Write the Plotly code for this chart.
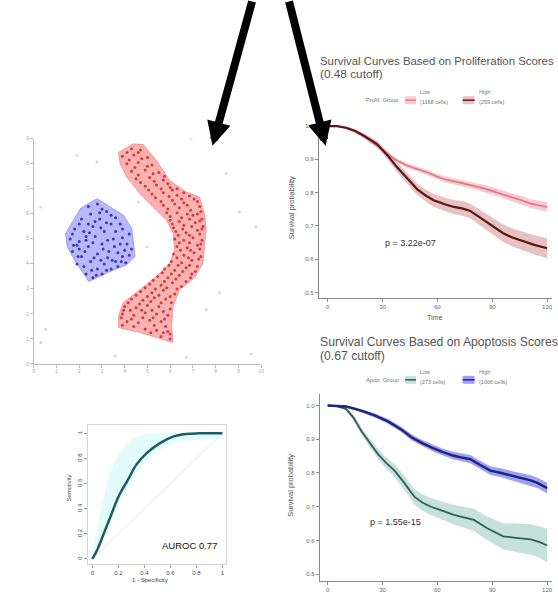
import plotly.graph_objects as go

W, H = 558, 599

# ---------------- scatter (clusters) data ----------------
blue_hull_x = [2.78, 3.94, 4.31, 4.45, 4.09, 3.36, 2.42, 1.83, 1.47, 1.40, 2.05, 2.78]
blue_hull_y = [6.61, 5.95, 5.42, 4.30, 3.97, 3.70, 3.30, 4.10, 4.69, 5.22, 6.21, 6.61]

red_hull_x = [3.73, 4.38, 4.81, 5.40, 5.98, 6.71, 7.29, 7.51, 7.58, 7.51, 7.44, 7.07, 6.42, 6.13,
              6.06, 6.13, 5.40, 4.67, 3.73, 3.73, 3.94, 4.67, 5.40, 5.98, 6.20, 6.13, 5.84, 5.25,
              4.67, 4.09, 3.80, 3.73]
red_hull_y = [8.46, 8.80, 8.77, 8.13, 7.33, 6.87, 6.67, 6.01, 5.36, 4.69, 4.03, 3.44, 2.98, 2.31,
              1.52, 0.86, 1.06, 1.26, 1.46, 1.92, 2.45, 2.98, 3.50, 4.03, 4.56, 5.22, 5.75, 6.28,
              6.81, 7.47, 8.00, 8.46]

blue_pts_x = [2.8, 3.2, 2.5, 3.6, 2.1, 2.9, 3.4, 2.6, 1.8, 3.9, 2.2, 3.1, 4.2, 1.6, 2.7, 3.5, 2.0,
              3.0, 3.8, 2.4, 4.3, 1.7, 3.3, 2.8, 2.1, 3.9, 3.6, 2.5, 3.1, 1.9, 4.05, 2.8, 3.4, 2.3,
              2.6, 3.0, 3.7, 2.0, 3.6, 2.4, 3.0, 2.3, 4.0, 1.75, 3.25,
              2.4, 2.9, 3.4, 2.0, 2.7, 3.2, 3.8, 1.7, 2.45, 2.95, 3.9, 2.3, 3.25, 1.9, 2.6, 3.55,
              4.1, 2.25, 3.05, 3.7, 1.95, 2.65, 3.45, 4.2, 2.2, 2.95, 3.85, 2.55, 3.2, 2.75]
blue_pts_y = [6.4, 6.1, 6.0, 5.85, 5.8, 5.8, 5.6, 5.5, 5.4, 5.4, 5.3, 5.3, 5.2, 5.0, 5.1, 5.0, 4.9,
              4.8, 4.8, 4.7, 4.6, 4.5, 4.5, 4.4, 4.3, 4.3, 4.1, 4.1, 4.0, 4.0, 4.05, 3.8, 3.8, 3.6,
              3.45, 3.6, 3.9, 4.6, 5.3, 5.6, 6.2, 4.95, 4.55, 4.75, 4.25,
              6.3, 6.05, 5.95, 5.6, 5.7, 5.65, 5.6, 5.2, 5.25, 5.45, 5.05, 5.1, 4.95, 4.75, 4.85, 4.7,
              4.8, 4.5, 4.6, 4.45, 4.3, 4.25, 4.15, 4.35, 3.9, 4.15, 4.1, 3.75, 3.75, 3.55]

red_pts_x = [4.3, 4.7, 3.9, 4.4, 5.0, 4.1, 4.6, 5.2, 4.3, 4.9, 5.5, 4.5, 5.1, 5.7,
             4.9, 5.4, 6.0, 6.3, 5.2, 5.7, 6.3, 6.85, 5.6, 6.1, 6.6, 7.2, 5.9, 6.4, 6.9, 7.35,
             6.0, 6.5, 7.0, 7.4, 6.1, 6.6, 7.1, 7.45, 6.25, 6.7, 7.2, 6.2, 6.6, 7.0, 7.4,
             6.3, 6.75, 7.2, 6.15, 6.6, 7.05, 7.35, 6.05, 6.5, 6.95, 5.75, 6.2, 6.7, 7.1,
             5.45, 5.9, 6.4, 6.9, 5.1, 5.6, 6.1, 6.5, 4.7, 5.2, 5.7, 6.2, 4.3, 4.8, 5.3, 5.8,
             4.0, 4.5, 5.0, 5.5, 6.0, 3.9, 4.4, 4.9, 5.4, 5.9, 4.1, 4.6, 5.1, 5.6, 4.9, 5.4,
             5.9, 5.6, 6.0]
red_pts_y = [8.6, 8.55, 8.3, 8.35, 8.25, 8.0, 8.05, 7.95, 7.7, 7.75, 7.65, 7.4, 7.45, 7.35,
             7.1, 7.15, 7.05, 7.0, 6.8, 6.85, 6.75, 6.72, 6.5, 6.55, 6.45, 6.5, 6.2, 6.25, 6.15, 6.1,
             5.9, 5.85, 5.95, 5.8, 5.6, 5.55, 5.65, 5.5, 5.3, 5.25, 5.35, 5.0, 4.95, 5.05, 4.95,
             4.7, 4.65, 4.75, 4.4, 4.35, 4.45, 4.3, 4.1, 4.05, 4.15, 3.8, 3.75, 3.85, 3.7,
             3.5, 3.45, 3.55, 3.45, 3.2, 3.15, 3.25, 3.1, 2.9, 2.85, 2.95, 2.8, 2.6, 2.55, 2.65, 2.6,
             2.3, 2.25, 2.35, 2.3, 2.2, 2.0, 1.95, 2.05, 2.0, 1.95, 1.7, 1.65, 1.75, 1.7, 1.4, 1.35,
             1.3, 1.1, 1.0]

red_pts2_x = [4.1, 4.6, 4.2, 4.75, 4.45, 5.0, 4.6, 5.25, 5.75, 4.7, 5.3, 5.9,
              5.05, 5.6, 6.1, 6.6, 5.35, 5.95, 6.5, 7.05, 5.7, 6.2, 6.75, 7.3, 5.85, 6.3, 6.75, 7.2,
              6.0, 6.4, 6.85, 7.3, 6.15, 6.55, 6.95, 7.4, 6.35, 6.85, 7.3, 6.4, 6.85, 7.35,
              6.45, 6.9, 7.3, 6.3, 6.8, 7.25, 5.95, 6.35, 6.85, 7.2, 5.65, 6.05, 6.55, 6.95,
              5.25, 5.75, 6.25, 6.7, 4.9, 5.35, 5.85, 6.3, 4.5, 5.0, 5.5, 6.0,
              4.15, 4.65, 5.15, 5.6, 6.05, 3.95, 4.25, 4.75, 5.2, 5.7, 3.85, 4.3, 4.8, 5.25, 5.75,
              3.9, 4.4, 5.3, 5.8, 5.15, 5.7, 6.0]
red_pts2_y = [8.45, 8.45, 8.15, 8.2, 7.85, 7.9, 7.55, 7.6, 7.5, 7.25, 7.3, 7.2,
              6.95, 7.0, 6.95, 6.85, 6.65, 6.7, 6.6, 6.6, 6.35, 6.4, 6.35, 6.3, 6.05, 6.05, 6.0, 6.0,
              5.75, 5.7, 5.8, 5.72, 5.45, 5.4, 5.5, 5.4, 5.15, 5.15, 5.2, 4.85, 4.85, 4.8,
              4.55, 4.55, 4.6, 4.25, 4.25, 4.2, 3.95, 3.95, 3.95, 3.9, 3.65, 3.6, 3.7, 3.6,
              3.35, 3.3, 3.4, 3.3, 3.05, 3.0, 3.05, 3.0, 2.75, 2.7, 2.75, 2.7,
              2.45, 2.4, 2.5, 2.45, 2.45, 2.15, 2.15, 2.15, 2.15, 2.1, 1.85, 1.8, 1.85, 1.85, 1.8,
              1.55, 1.5, 1.55, 1.5, 1.25, 1.25, 1.2]

noise_x = [1.91, 2.78, 6.93, 8.46, 9.04, 9.77, 0.31, 4.97, 8.17, 7.59, 0.31, 3.58, 6.71, 9.55, 4.60, 0.52]
noise_y = [8.33, 8.07, 9.00, 7.61, 6.08, 5.49, 6.28, 4.69, 2.85, 2.18, 0.86, 0.33, 0.27, 0.40, 6.48, 1.39]

# ---------------- ROC data ----------------
roc_fpr = [0, 0.04, 0.09, 0.14, 0.20, 0.27, 0.34, 0.42, 0.52, 0.62, 0.72, 0.82, 1.0]
roc_tpr = [0, 0.078, 0.208, 0.338, 0.494, 0.623, 0.753, 0.844, 0.922, 0.974, 0.995, 1.0, 1.0]
roc_upper = [0, 0.26, 0.50, 0.69, 0.83, 0.92, 0.97, 0.995, 1.0, 1.0, 1.0, 1.0, 1.0]
roc_lower = [0, 0.05, 0.16, 0.28, 0.43, 0.56, 0.69, 0.79, 0.87, 0.92, 0.94, 0.95, 0.96]
auroc_label = "AUROC 0.77"

# ---------------- survival data ----------------
prolif_high_t = [0, 5, 10, 15, 20, 27, 33, 38, 44, 49, 54, 58, 64, 69, 74, 78, 82, 86, 91, 96, 101, 107, 113, 120]
prolif_high_s = [1.0, 1.0, 0.995, 0.985, 0.97, 0.946, 0.91, 0.876, 0.84, 0.81, 0.79, 0.777, 0.765, 0.757,
                 0.752, 0.745, 0.73, 0.715, 0.695, 0.678, 0.665, 0.653, 0.643, 0.633]
prolif_high_ci = [0.0, 0.002, 0.004, 0.006, 0.008, 0.01, 0.012, 0.014, 0.016, 0.017, 0.018, 0.019, 0.02,
                  0.021, 0.022, 0.022, 0.023, 0.024, 0.025, 0.026, 0.027, 0.028, 0.029, 0.03]

prolif_low_t = [0, 5, 10, 15, 20, 27, 33, 38, 44, 49, 55, 60, 64, 70, 75, 80, 86, 91, 96, 100, 106, 111, 116, 120]
prolif_low_s = [1.0, 1.0, 0.995, 0.985, 0.97, 0.94, 0.915, 0.896, 0.88, 0.871, 0.86, 0.848, 0.84, 0.833,
                0.827, 0.82, 0.812, 0.803, 0.795, 0.787, 0.777, 0.767, 0.762, 0.757]
prolif_low_ci = [0.0, 0.001, 0.002, 0.003, 0.004, 0.005, 0.006, 0.006, 0.007, 0.007, 0.008, 0.008, 0.009,
                 0.009, 0.01, 0.01, 0.011, 0.011, 0.012, 0.012, 0.013, 0.013, 0.014, 0.014]

apop_high_t = [0, 5, 10, 15, 20, 26, 33, 40, 46, 52, 57, 63, 69, 74, 78, 83, 89, 95, 100, 106, 111, 115, 120]
apop_high_s = [1.0, 0.998, 0.997, 0.99, 0.982, 0.97, 0.953, 0.93, 0.905, 0.888, 0.875, 0.862, 0.851,
               0.845, 0.841, 0.825, 0.807, 0.80, 0.793, 0.785, 0.778, 0.77, 0.755]
apop_high_ci = [0.0, 0.002, 0.003, 0.004, 0.005, 0.006, 0.007, 0.008, 0.009, 0.009, 0.01, 0.01, 0.011,
                0.011, 0.012, 0.012, 0.013, 0.013, 0.014, 0.014, 0.015, 0.015, 0.016]

apop_low_t = [0, 5, 10, 14, 18.5, 23, 27.5, 32, 36.6, 42, 47.5, 52, 56.5, 63, 69, 75, 80, 87, 92, 96, 103, 111, 116, 120]
apop_low_s = [1.0, 0.998, 0.99, 0.965, 0.924, 0.89, 0.856, 0.83, 0.807, 0.77, 0.729, 0.712, 0.70, 0.688,
              0.676, 0.668, 0.661, 0.637, 0.622, 0.612, 0.608, 0.603, 0.595, 0.585]
apop_low_ci = [0.0, 0.003, 0.005, 0.008, 0.011, 0.013, 0.015, 0.017, 0.019, 0.021, 0.023, 0.024, 0.025,
               0.027, 0.029, 0.031, 0.033, 0.035, 0.037, 0.039, 0.042, 0.045, 0.047, 0.05]

surv_xticks = [0, 30, 60, 90, 120]
surv_yticks = [0.5, 0.6, 0.7, 0.8, 0.9, 1.0]
surv_yticktext = ["0.5", "0.6", "0.7", "0.8", "0.9", "1.0"]

prolif_title = "Survival Curves Based on Proliferation Scores"
prolif_cut = "(0.48 cutoff)"
prolif_p = "p = 3.22e-07"
prolif_legend = ["Prolif. Group", "Low", "(1168 cells)", "High", "(259 cells)"]

apop_title = "Survival Curves Based on Apoptosis Scores"
apop_cut = "(0.67 cutoff)"
apop_p = "p = 1.55e-15"
apop_legend = ["Apop. Group", "Low", "(273 cells)", "High", "(1066 cells)"]

FONT = "Liberation Sans, Arial, sans-serif"


def fx(p):
    return p / W


def fy(p):
    return 1 - p / H


fig = go.Figure()

# ---- scatter panel
fig.add_trace(go.Scatter(x=noise_x, y=noise_y, mode="markers", xaxis="x", yaxis="y",
                         marker=dict(size=3, color="#d6d6d6"), hoverinfo="skip"))
fig.add_trace(go.Scatter(x=blue_hull_x, y=blue_hull_y, mode="lines", fill="toself", xaxis="x", yaxis="y",
                         fillcolor="rgba(155,155,248,0.72)", line=dict(color="rgba(140,140,240,0.8)", width=1),
                         hoverinfo="skip"))
fig.add_trace(go.Scatter(x=red_hull_x, y=red_hull_y, mode="lines", fill="toself", xaxis="x", yaxis="y",
                         fillcolor="rgba(247,155,155,0.78)", line=dict(color="rgba(242,140,140,0.8)", width=1),
                         hoverinfo="skip"))
fig.add_trace(go.Scatter(x=blue_pts_x, y=blue_pts_y, mode="markers", xaxis="x", yaxis="y",
                         marker=dict(size=3, color="#3a36c8", line=dict(width=0)), hoverinfo="skip"))
fig.add_trace(go.Scatter(x=red_pts_x + red_pts2_x, y=red_pts_y + red_pts2_y, mode="markers", xaxis="x", yaxis="y",
                         marker=dict(size=3, color="#d43c3c", line=dict(width=0)), hoverinfo="skip"))

# ---- ROC panel
fig.add_trace(go.Scatter(x=roc_fpr, y=roc_lower, mode="lines", xaxis="x2", yaxis="y2", line_shape="spline",
                         line=dict(width=0, color="rgba(0,0,0,0)"), hoverinfo="skip"))
fig.add_trace(go.Scatter(x=roc_fpr, y=roc_upper, mode="lines", xaxis="x2", yaxis="y2", fill="tonexty",
                         line_shape="spline", fillcolor="rgba(222,250,250,0.85)",
                         line=dict(width=0, color="rgba(0,0,0,0)"), hoverinfo="skip"))
fig.add_trace(go.Scatter(x=[0, 1], y=[0, 1], mode="lines", xaxis="x2", yaxis="y2",
                         line=dict(color="#e4e4e4", width=1), hoverinfo="skip"))
fig.add_trace(go.Scatter(x=roc_fpr, y=roc_tpr, mode="lines", xaxis="x2", yaxis="y2", line_shape="spline",
                         line=dict(color="#1f5c5c", width=2.5), hoverinfo="skip"))


def band(t, s, ci, xa, ya, fillc, linec, lw):
    lo = [a - b for a, b in zip(s, ci)]
    hi = [a + b for a, b in zip(s, ci)]
    fig.add_trace(go.Scatter(x=t, y=lo, mode="lines", xaxis=xa, yaxis=ya,
                             line=dict(width=0, color="rgba(0,0,0,0)"), hoverinfo="skip"))
    fig.add_trace(go.Scatter(x=t, y=hi, mode="lines", xaxis=xa, yaxis=ya, fill="tonexty", fillcolor=fillc,
                             line=dict(width=0, color="rgba(0,0,0,0)"), hoverinfo="skip"))
    fig.add_trace(go.Scatter(x=t, y=s, mode="lines", xaxis=xa, yaxis=ya,
                             line=dict(color=linec, width=lw), hoverinfo="skip"))


band(prolif_low_t, prolif_low_s, prolif_low_ci, "x3", "y3", "rgba(240,160,170,0.55)", "#e5767f", 1.6)
band(prolif_high_t, prolif_high_s, prolif_high_ci, "x3", "y3", "rgba(200,120,120,0.45)", "#5a1618", 2.2)
band(apop_low_t, apop_low_s, apop_low_ci, "x4", "y4", "rgba(160,205,195,0.6)", "#2f5e57", 1.8)
band(apop_high_t, apop_high_s, apop_high_ci, "x4", "y4", "rgba(80,80,240,0.55)", "#1b2777", 2.4)

scat_ax = dict(showline=True, linecolor="#bdbdbd", linewidth=1, ticks="outside", ticklen=3,
               tickcolor="#bdbdbd", tickfont=dict(size=4.5, color="#a0a0a0", family=FONT),
               showgrid=False, zeroline=False, dtick=1)
roc_ax = dict(showline=True, mirror=True, linecolor="#d4d4d4", linewidth=1, ticks="outside", ticklen=3,
              tickcolor="#999", tickfont=dict(size=6, color="#444", family=FONT), showgrid=False,
              zeroline=False, tickvals=[0, 0.2, 0.4, 0.6, 0.8, 1.0],
              ticktext=["0", "0.2", "0.4", "0.6", "0.8", "1"])
surv_x = dict(showline=True, linecolor="#8a8a8a", linewidth=1, ticks="outside", ticklen=3, tickcolor="#8a8a8a",
              tickfont=dict(size=6, color="#666", family=FONT), showgrid=False, zeroline=False,
              tickvals=surv_xticks, ticklabeloverflow="allow")
surv_y = dict(showline=True, linecolor="#8a8a8a", linewidth=1, ticks="outside", ticklen=3, tickcolor="#8a8a8a",
              tickfont=dict(size=6, color="#666", family=FONT), showgrid=False, zeroline=False,
              tickvals=surv_yticks, ticktext=surv_yticktext)

fig.update_layout(
    width=W, height=H, margin=dict(l=0, r=0, t=0, b=0), showlegend=False,
    paper_bgcolor="white", plot_bgcolor="rgba(0,0,0,0)",
    font=dict(family=FONT),
    xaxis=dict(scat_ax, domain=[fx(33), fx(262)], range=[0, 10], anchor="y"),
    yaxis=dict(scat_ax, domain=[fy(365), fy(138)], range=[0, 9], anchor="x"),
    xaxis2=dict(roc_ax, domain=[fx(88), fx(227)], range=[-0.0305, 1.0305], anchor="y2"),
    yaxis2=dict(roc_ax, domain=[fy(567), fy(427)], range=[-0.042, 1.063], anchor="x2", tickangle=-90),
    xaxis3=dict(surv_x, domain=[fx(320), fx(555)], range=[-4.9, 122.7], anchor="y3"),
    yaxis3=dict(surv_y, domain=[fy(298), fy(112)], range=[0.485, 1.039], anchor="x3"),
    xaxis4=dict(surv_x, domain=[fx(321), fx(555)], range=[-4.35, 122.7], anchor="y4"),
    yaxis4=dict(surv_y, domain=[fy(584), fy(395)], range=[0.4795, 1.035], anchor="x4"),
)


def txt(s, x, y, size, color="#555", xanchor="center", angle=0):
    fig.add_annotation(text=s, x=fx(x), y=fy(y), xref="paper", yref="paper", showarrow=False,
                       xanchor=xanchor, yanchor="middle", textangle=angle,
                       font=dict(size=size, color=color, family=FONT))


# titles
txt(prolif_title, 319, 59, 11.4, "#555", "left")
txt(prolif_cut, 319, 73, 11.8, "#555", "left")
txt(apop_title, 319, 343, 12.2, "#555", "left")
txt(apop_cut, 319, 357, 12.2, "#555", "left")
# p values
txt(prolif_p, 412, 243, 9, "#333")
txt(apop_p, 397, 524, 9, "#333")
# axis titles
txt("Survival probability", 292, 207, 7.5, "#555", angle=-90)
txt("Survival probability", 292, 487, 7.5, "#555", angle=-90)
txt("Time", 437, 318, 7, "#555")
txt("1 - Specificity", 150, 583, 6, "#444")
txt("Sensitivity", 68, 490, 6, "#444", angle=-90)
txt(auroc_label, 190, 548, 9.5, "#111")


# legends
def legend(items, y, fill1, line1, fill2, line2):
    txt(items[0], 384, y, 5.8, "#777")
    txt(items[1], 420, y - 8, 5.5, "#777", "left")
    txt(items[2], 420, y + 2, 5.5, "#777", "left")
    txt(items[3], 479, y - 8, 5.5, "#777", "left")
    txt(items[4], 479, y + 2, 5.5, "#777", "left")
    for (x0, x1, fc, lc) in [(407, 418, fill1, line1), (465, 477, fill2, line2)]:
        fig.add_shape(type="rect", xref="paper", yref="paper", x0=fx(x0), x1=fx(x1), y0=fy(y + 4), y1=fy(y - 4),
                      fillcolor=fc, line=dict(width=0))
        fig.add_shape(type="line", xref="paper", yref="paper", x0=fx(x0), x1=fx(x1), y0=fy(y), y1=fy(y),
                      line=dict(color=lc, width=1.5))


legend(prolif_legend, 99, "rgba(240,160,170,0.55)", "#e5767f", "rgba(200,120,120,0.45)", "#5a1618")
legend(apop_legend, 381, "rgba(160,205,195,0.6)", "#2f5e57", "rgba(80,80,240,0.55)", "#1b2777")

# arrows
for (tipx, tipy, tailx, taily) in [(213, 145, 253, -4), (327, 145, 290, -4)]:
    fig.add_annotation(text="", x=fx(tipx), y=fy(tipy), xref="paper", yref="paper", showarrow=True,
                       ax=tailx - tipx, ay=taily - tipy, axref="pixel", ayref="pixel",
                       arrowhead=2, arrowsize=0.6, arrowwidth=8, arrowcolor="black", standoff=0)

fig.write_html("out.html", config={"displayModeBar": False},
               post_script="document.body.style.margin='0px';document.body.style.overflow='hidden';")
